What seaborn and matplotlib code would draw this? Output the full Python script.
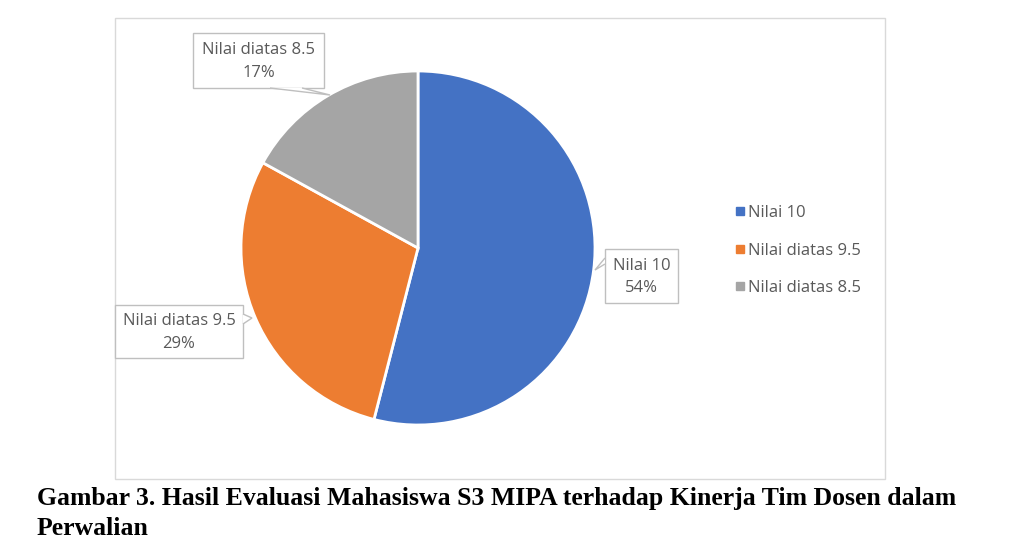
import numpy as np
import seaborn as sns
import matplotlib.pyplot as plt
from matplotlib.patches import Rectangle, Polygon
from matplotlib.lines import Line2D

labels = ["Nilai 10", "Nilai diatas 9.5", "Nilai diatas 8.5"]
values = [54, 29, 17]
colors = ["#4472C4", "#ED7D31", "#A5A5A5"]
caption = ["Gambar 3. Hasil Evaluasi Mahasiswa S3 MIPA terhadap Kinerja Tim Dosen dalam",
           "Perwalian"]

sns.set_style("white")
plt.rcParams['font.family'] = ['Open Sans', 'DejaVu Sans']

W, H = 1024, 557
fig = plt.figure(figsize=(W / 100, H / 100), dpi=100)
ax = fig.add_axes([0, 0, 1, 1])

def py(y):
    # pixel row (from top) to axes y
    return H - y

# chart frame
ax.add_patch(Rectangle((115, py(479)), 770, 461, fill=False, edgecolor="#d9d9d9", lw=1))

wedges, _ = ax.pie(values, colors=colors, startangle=90, counterclock=False,
                   center=(418, py(248)), radius=177, frame=True,
                   wedgeprops=dict(edgecolor="white", linewidth=2))
ax.set_xlim(0, W)
ax.set_ylim(0, H)
ax.axis("off")

# callout boxes: (left, top, right, bottom) and pointer polyline in pixels
callouts = [
    ((605, 249, 678, 303), [(605, 258), (595, 270), (605, 264)]),
    ((115, 305, 243, 358), [(243, 314), (252, 318), (243, 324)]),
    ((193, 33, 324, 88), [(270, 88), (330, 95), (302, 88)]),
]
for (lab, val), ((l, t, r, b), ptr) in zip(zip(labels, values), callouts):
    ax.add_patch(Rectangle((l, py(b)), r - l, b - t, facecolor="white",
                           edgecolor="#bfbfbf", lw=1, zorder=3))
    ax.add_patch(Polygon([(x, py(y)) for x, y in ptr], closed=False, facecolor="white",
                         edgecolor="#bfbfbf", lw=1, zorder=4))
    ax.text((l + r) / 2, py((t + b) / 2 + 1), f"{lab}\n{val}%", ha="center", va="center",
            fontsize=12, color="#595959", linespacing=1.55, zorder=5)

handles = [Line2D([], [], marker="s", linestyle="", markersize=5.5, color=c) for c in colors]
ax.legend(handles, labels, loc="upper left", bbox_to_anchor=(735 / W, 1 - 205 / H),
          frameon=False, fontsize=12, labelcolor="#595959", handlelength=0.6,
          handletextpad=0.15, labelspacing=1.3, borderaxespad=0, borderpad=0)

for i, line in enumerate(caption):
    fig.text(37 / W, 1 - (505 + 30 * i) / H, line, fontsize=18.5, fontweight="bold",
             family="Liberation Serif", color="black", va="baseline")

fig.savefig("out.png", dpi=100)
